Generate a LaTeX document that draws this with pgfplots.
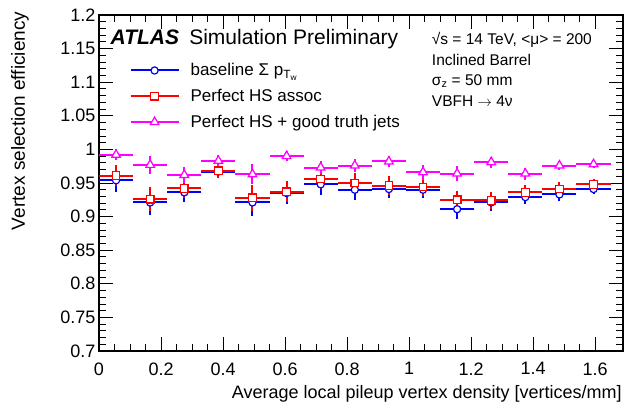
\documentclass[border=0pt]{standalone}
\usepackage{pgfplots}
\pgfplotsset{compat=1.18}
\usepackage{pgfplotstable}
\usepackage{fontspec}
\setmainfont{Liberation Sans}

\definecolor{rootblue}{RGB}{0,0,255}
\definecolor{rootred}{RGB}{255,0,0}
\definecolor{rootmag}{RGB}{255,0,255}

\pgfplotsset{
    binerr/.style={
        only marks, mark=none, forget plot, line width=2pt,
        error bars/x dir=both, error bars/x fixed=0.055,
        error bars/y dir=both, error bars/y explicit,
        error bars/error mark=none,
        error bars/error bar style={line width=2pt},
    },
}

% bin centre, efficiency, stat error
\pgfplotstableread{
x     y      ey
0.055 0.954  0.017
0.165 0.921  0.019
0.275 0.936  0.015
0.385 0.967  0.010
0.495 0.921  0.020
0.605 0.935  0.016
0.715 0.948  0.016
0.825 0.940  0.015
0.935 0.941  0.014
1.045 0.940  0.013
1.155 0.911  0.014
1.265 0.921  0.013
1.375 0.929  0.010
1.485 0.933  0.010
1.595 0.941  0.008
}\baseline

\pgfplotstableread{
x     y      ey
0.055 0.961  0.016
0.165 0.926  0.018
0.275 0.942  0.015
0.385 0.968  0.010
0.495 0.928  0.019
0.605 0.937  0.016
0.715 0.956  0.015
0.825 0.950  0.015
0.935 0.946  0.014
1.045 0.944  0.013
1.155 0.925  0.013
1.265 0.924  0.013
1.375 0.936  0.011
1.485 0.941  0.010
1.595 0.948  0.008
}\perfecths

\pgfplotstableread{
x     y      ey
0.055 0.992  0.008
0.165 0.977  0.013
0.275 0.962  0.012
0.385 0.983  0.009
0.495 0.963  0.015
0.605 0.990  0.008
0.715 0.973  0.009
0.825 0.976  0.009
0.935 0.982  0.008
1.045 0.966  0.011
1.155 0.964  0.011
1.265 0.981  0.008
1.375 0.964  0.009
1.485 0.976  0.007
1.595 0.978  0.006
}\truthjets

\begin{document}
\begin{tikzpicture}
\begin{axis}[
    name=ax,
    scale only axis,
    width=524pt, height=336pt,
    xmin=0, xmax=1.69,
    ymin=0.7, ymax=1.2,
    xtick={0,0.2,0.4,0.6,0.8,1,1.2,1.4,1.6},
    xticklabels={0,0.2,0.4,0.6,0.8,1,1.2,1.4,1.6},
    ytick={0.7,0.75,0.8,0.85,0.9,0.95,1,1.05,1.1,1.15,1.2},
    yticklabels={0.7,0.75,0.8,0.85,0.9,0.95,1,1.05,1.1,1.15,1.2},
    minor x tick num=3,
    minor y tick num=4,
    tick align=inside,
    major tick length=14pt,
    minor tick length=7pt,
    tick style={black, line width=0.9pt},
    axis line style={line width=1.1pt},
    ticklabel style={font=\fontsize{18}{20}\selectfont},
    xticklabel style={yshift=-8pt},
    xlabel={Average local pileup vertex density [vertices/mm]},
    ylabel={Vertex selection efficiency},
    xlabel style={at={(axis description cs:0.998,-0.127)}, anchor=east,
        inner sep=0pt, font=\fontsize{18}{20}\selectfont},
    ylabel style={at={(axis description cs:-0.151,1.01)}, anchor=east,
        inner sep=0pt, font=\fontsize{19}{21}\selectfont},
    legend style={at={(axis description cs:0.058,0.862)}, anchor=north west,
        draw=none, fill=none, font=\fontsize{17}{19}\selectfont,
        row sep=8pt, inner sep=0pt},
    legend cell align=left,
    legend image code/.code={
        \draw[#1, sharp plot, mark repeat=2, mark phase=2]
            plot coordinates {(0pt,0pt) (24pt,0pt) (48pt,0pt)};
        \path (57pt,0pt);},
]
\addplot[color=rootblue, binerr] table[x=x, y=y, y error=ey] {\baseline};
\addplot[only marks, color=rootblue, line width=2pt, mark=*, mark size=3.6pt,
    mark options={fill=white, draw=rootblue, line width=1.2pt}]
    table[x=x, y=y] {\baseline};
\addlegendentry{baseline Σ p\textsubscript{T\textsubscript{w}}}

\addplot[color=rootred, binerr] table[x=x, y=y, y error=ey] {\perfecths};
\addplot[only marks, color=rootred, line width=2pt, mark=square*, mark size=3.8pt,
    mark options={fill=white, draw=rootred, line width=1.2pt}]
    table[x=x, y=y] {\perfecths};
\addlegendentry{Perfect HS assoc}

\addplot[color=rootmag, binerr] table[x=x, y=y, y error=ey] {\truthjets};
\addplot[only marks, color=rootmag, line width=2pt, mark=triangle*, mark size=5pt,
    mark options={fill=white, draw=rootmag, line width=1.2pt}]
    table[x=x, y=y] {\truthjets};
\addlegendentry{Perfect HS + good truth jets}

\node[anchor=base west, inner sep=0pt, font=\fontsize{21}{24}\selectfont\bfseries\itshape]
    at (axis description cs:0.022,0.911) {ATLAS};
\node[anchor=base west, inner sep=0pt, font=\fontsize{21}{24}\selectfont]
    at (axis description cs:0.172,0.911) {Simulation Preliminary};

\node[anchor=base west, inner sep=0pt, font=\fontsize{15.5}{18}\selectfont]
    at (axis description cs:0.635,0.911) {√s = 14 TeV, <μ> = 200};
\node[anchor=base west, inner sep=0pt, font=\fontsize{15.5}{18}\selectfont]
    at (axis description cs:0.635,0.849) {Inclined Barrel};
\node[anchor=base west, inner sep=0pt, font=\fontsize{15.5}{18}\selectfont]
    at (axis description cs:0.635,0.790) {σ\textsubscript{z} = 50 mm};
\node[anchor=base west, inner sep=0pt, font=\fontsize{15.5}{18}\selectfont]
    at (axis description cs:0.635,0.729) {VBFH $\rightarrow$ 4ν};
\end{axis}
\path[use as bounding box] ([shift={(-99pt,-57pt)}]ax.south west)
    rectangle ([shift={(2pt,15pt)}]ax.north east);
\end{tikzpicture}
\end{document}
